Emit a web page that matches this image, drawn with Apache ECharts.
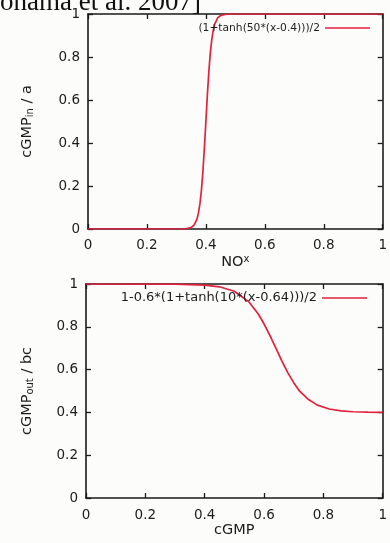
<!DOCTYPE html>
<html>
<head>
<meta charset="utf-8">
<script src="https://cdn.jsdelivr.net/npm/echarts@6/dist/echarts.min.js"></script>
<style>
  html, body { margin: 0; padding: 0; background: #fcfcfa; }
  #chart { width: 390px; height: 543px; }
</style>
</head>
<body>
<div id="chart"></div>
<script>
// values
var inX = [0, 0.3, 0.33, 0.35, 0.36, 0.37, 0.375, 0.38, 0.385, 0.39, 0.395, 0.4, 0.405, 0.41, 0.415, 0.42, 0.425, 0.43, 0.44, 0.45, 0.47, 0.5, 1];
var inY = [0, 0, 0.001, 0.007, 0.018, 0.047, 0.076, 0.119, 0.182, 0.269, 0.378, 0.5, 0.622, 0.731, 0.818, 0.881, 0.924, 0.953, 0.982, 0.993, 0.999, 1, 1];
var outX = [0, 0.3, 0.4, 0.45, 0.5, 0.55, 0.58, 0.6, 0.62, 0.64, 0.66, 0.68, 0.7, 0.72, 0.75, 0.78, 0.82, 0.86, 0.9, 0.95, 1];
var outY = [1, 0.999, 0.995, 0.987, 0.966, 0.915, 0.861, 0.814, 0.759, 0.7, 0.641, 0.586, 0.539, 0.499, 0.46, 0.434, 0.416, 0.407, 0.403, 0.401, 0.4];
var inName = '(1+tanh(50*(x-0.4)))/2';
var outName = '1-0.6*(1+tanh(10*(x-0.64)))/2';
var tickLabels = ['0', '0.2', '0.4', '0.6', '0.8', '1'];

function pairs(xs, ys) {
    return xs.map(function (x, i) { return [x, ys[i]]; });
}

var chart = echarts.init(document.getElementById('chart'));

var font = 'DejaVu Sans';
var lineCol = '#1a1a1a';
var txtCol = '#1c1c1c';
var red = '#e3213c';

function mainAxis(dim, idx, pos, name, nameGap, labelMargin) {
    var ax = {
        type: 'value', gridIndex: idx, position: pos,
        min: 0, max: 1, interval: 0.2,
        splitLine: { show: false },
        axisLine: { show: true, onZero: false, lineStyle: { color: lineCol, width: 1.6 } },
        axisTick: { show: true, inside: true, length: 5, lineStyle: { color: lineCol, width: 1.3 } },
        axisLabel: {
            color: txtCol, fontFamily: font, fontSize: 13.5, margin: labelMargin,
            formatter: function (v) { return tickLabels[Math.round(v * 5)]; }
        },
        name: name, nameLocation: 'middle', nameGap: nameGap,
        nameTextStyle: {
            color: txtCol, fontFamily: font, fontSize: 14.5,
            rich: {
                a: { fontFamily: font, fontSize: 14.5, color: txtCol, lineHeight: 16 },
                sub: { fontFamily: font, fontSize: 10, color: txtCol, verticalAlign: 'bottom', lineHeight: 10, padding: [9, 0, 0, 0] },
                sup: { fontFamily: font, fontSize: 10, color: txtCol, verticalAlign: 'top', lineHeight: 10, padding: [0, 0, 12, 0] }
            }
        }
    };
    if (dim === 'y') ax.nameRotate = 90;
    return ax;
}

function mirrorAxis(idx, pos) {
    return {
        type: 'value', gridIndex: idx, position: pos,
        min: 0, max: 1, interval: 0.2,
        splitLine: { show: false },
        axisLine: { show: true, onZero: false, lineStyle: { color: lineCol, width: 1.6 } },
        axisTick: { show: true, inside: true, length: 5, lineStyle: { color: lineCol, width: 1.3 } },
        axisLabel: { show: false }
    };
}

option = {
    backgroundColor: '#fcfcfa',
    animation: false,
    graphic: [{
        type: 'text', left: 0, top: -11,
        style: { text: 'ohama et al. 2007]', font: '27px "Liberation Serif"', fill: '#111' }
    }],
    grid: [
        { left: 88, right: 3, top: 14, height: 215 },
        { left: 86, right: 5, top: 284, height: 214 }
    ],
    legend: [
        {
            data: [inName], top: 21, right: 20, align: 'right', padding: 0,
            icon: 'rect', itemWidth: 45, itemHeight: 1.6, itemGap: 6,
            textStyle: { fontFamily: font, fontSize: 10.7, color: txtCol, lineHeight: 14 }
        },
        {
            data: [outName], top: 291, right: 23, align: 'right', padding: 0,
            icon: 'rect', itemWidth: 45, itemHeight: 1.6, itemGap: 6,
            textStyle: { fontFamily: font, fontSize: 13, color: txtCol, lineHeight: 14 }
        }
    ],
    xAxis: [
        mainAxis('x', 0, 'bottom', '{a|NO}{sup|x}', 25, 9),
        mirrorAxis(0, 'top'),
        mainAxis('x', 1, 'bottom', 'cGMP', 23, 10),
        mirrorAxis(1, 'top')
    ],
    yAxis: [
        mainAxis('y', 0, 'left', '{a|cGMP}{sub|in}{a| / a}', 53, 8),
        mirrorAxis(0, 'right'),
        mainAxis('y', 1, 'left', '{a|cGMP}{sub|out}{a| / bc}', 51, 8),
        mirrorAxis(1, 'right')
    ],
    series: [
        {
            name: inName, type: 'line', xAxisIndex: 0, yAxisIndex: 0,
            data: pairs(inX, inY), showSymbol: false, smooth: false,
            lineStyle: { color: red, width: 1.7 }, itemStyle: { color: red }
        },
        {
            name: outName, type: 'line', xAxisIndex: 2, yAxisIndex: 2,
            data: pairs(outX, outY), showSymbol: false, smooth: false,
            lineStyle: { color: red, width: 1.7 }, itemStyle: { color: red }
        }
    ]
};

chart.setOption(option);

window.addEventListener('resize', function () {
    chart.resize();
});
</script>
</body>
</html>
